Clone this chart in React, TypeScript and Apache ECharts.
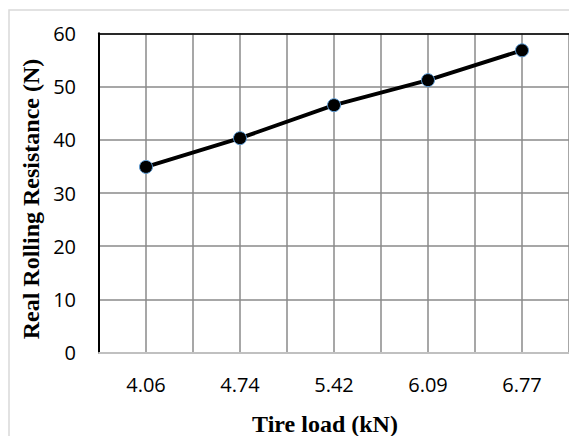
import React, { useEffect, useRef } from "react";
import * as echarts from "echarts";

const categories = ["4.06", "4.74", "5.42", "6.09", "6.77"];
const resistance = [34.9, 40.3, 46.5, 51.2, 56.8];
const yMin = 0;
const yMax = 60;
const yStep = 10;
const xTitle = "Tire load (kN)";
const yTitle = "Real Rolling Resistance (N)";

export default function App() {
  const ref = useRef<HTMLDivElement>(null);
  useEffect(() => {
    if (!ref.current) return;
    const chart = echarts.init(ref.current, undefined, { renderer: "svg" });
    const sans = "Open Sans";
    const serif = "Liberation Serif";
    chart.setOption({
      animation: false,
      backgroundColor: "#ffffff",
      grid: { left: 99, top: 33.3, width: 474, height: 319.4, containLabel: false },
      graphic: [
        {
          type: "rect",
          shape: { x: 9, y: 10, width: 700, height: 600 },
          style: { fill: "none", stroke: "#d9d9d9", lineWidth: 1.5 },
          z: -1,
        },
        {
          type: "text",
          x: 325,
          y: 424,
          style: {
            text: xTitle,
            font: `bold 24px "${serif}"`,
            fill: "#000",
            align: "center",
            verticalAlign: "middle",
          },
        },
        {
          type: "text",
          x: 31,
          y: 199,
          rotation: Math.PI / 2,
          style: {
            text: yTitle,
            font: `bold 24px "${serif}"`,
            fill: "#000",
            align: "center",
            verticalAlign: "middle",
          },
        },
      ],
      xAxis: [
        {
          type: "category",
          data: categories,
          boundaryGap: true,
          position: "bottom",
          axisLine: { show: true, lineStyle: { color: "#c0c0c0", width: 2 } },
          axisTick: { show: false },
          splitLine: { show: false },
          axisLabel: { color: "#000", fontFamily: sans, fontSize: 20, margin: 22 },
        },
        {
          type: "value",
          min: 0,
          max: categories.length,
          interval: 0.5,
          position: "top",
          axisLine: { show: true, onZero: false, lineStyle: { color: "#000", width: 1.5 } },
          axisTick: { show: false },
          axisLabel: { show: false },
          splitLine: { show: true, lineStyle: { color: "#8a8a8a", width: 1.5 } },
        },
      ],
      yAxis: {
        type: "value",
        min: yMin,
        max: yMax,
        interval: yStep,
        axisLine: { show: true, lineStyle: { color: "#000", width: 2 } },
        axisTick: { show: false },
        axisLabel: { color: "#000", fontFamily: sans, fontSize: 20, margin: 23 },
        splitLine: { show: true, lineStyle: { color: "#8a8a8a", width: 1.5 } },
      },
      series: [
        {
          type: "line",
          xAxisIndex: 0,
          data: resistance,
          lineStyle: { color: "#000", width: 4 },
          symbol: "circle",
          symbolSize: 13,
          itemStyle: { color: "#000", borderColor: "#5b9bd5", borderWidth: 1 },
          z: 5,
        },
      ],
    });
    return () => chart.dispose();
  }, []);
  return (
    <div
      ref={ref}
      style={{ position: "fixed", left: 0, top: 0, width: 569, height: 436 }}
    />
  );
}
